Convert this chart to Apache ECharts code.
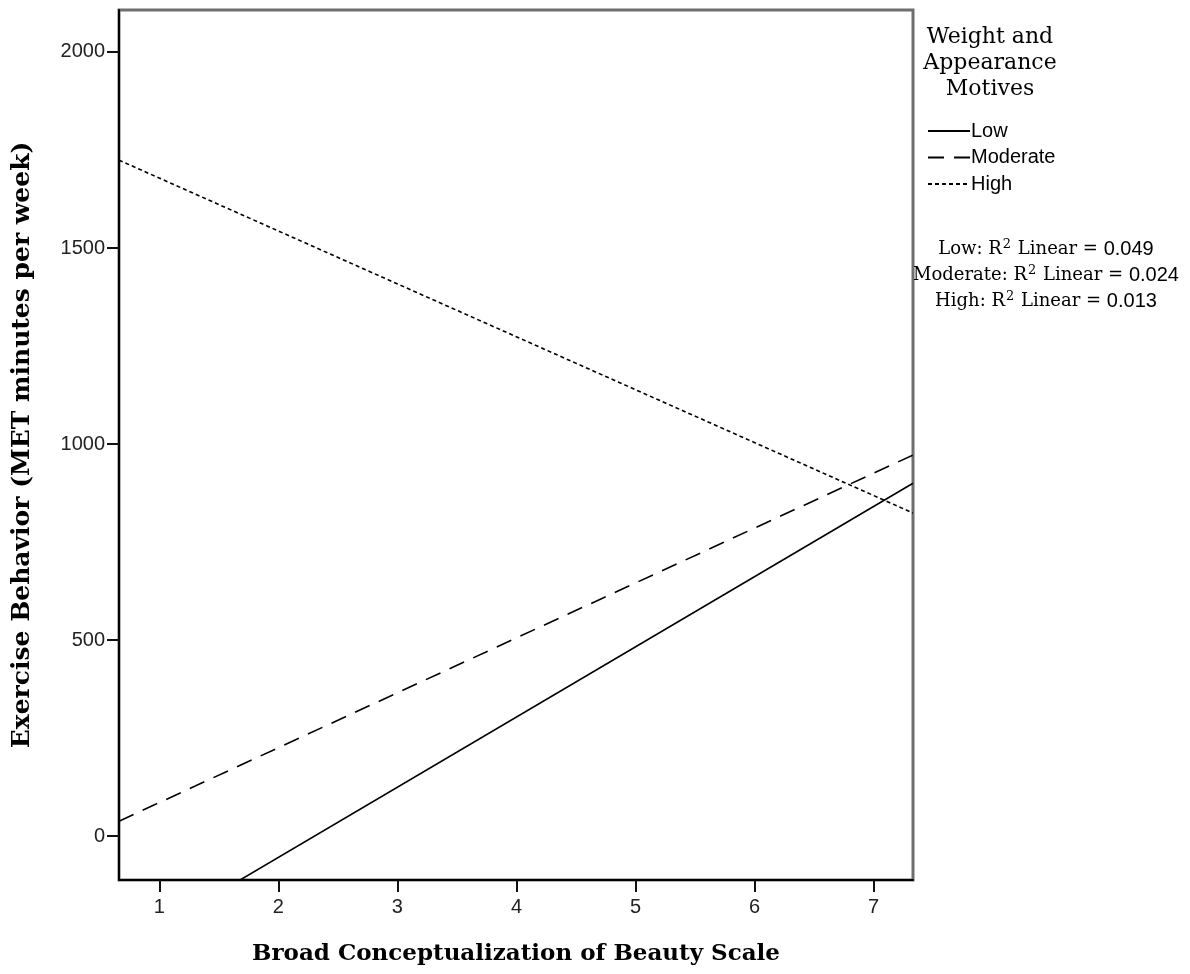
<!DOCTYPE html>
<html>
<head>
<meta charset="utf-8">
<script src="https://cdn.jsdelivr.net/npm/echarts@6/dist/echarts.min.js"></script>
<style>html,body{margin:0;padding:0;background:#fff}#c{width:1190px;height:974px}</style>
</head>
<body>
<div id="c"></div>
<script>
// Data (fit-line endpoints)
const xRange = [0.661, 7.331];
const lowLine = [[0.661, -294], [7.331, 900]];
const moderateLine = [[0.661, 38], [7.331, 972]];
const highLine = [[0.661, 1724], [7.331, 824]];
const seriesNames = ['Low', 'Moderate', 'High'];
const xTicks = [1, 2, 3, 4, 5, 6, 7];
const yTicks = [0, 500, 1000, 1500, 2000];
const yRange = [-112, 2107];
const r2Labels = ['Low', 'Moderate', 'High'];
const r2Values = ['0.049', '0.024', '0.013'];

const chart = echarts.init(document.getElementById('c'));
const serif = 'DejaVu Serif';
const sans = 'Liberation Sans';

function lineSeries(name, data, type) {
  return {
    name: name, type: 'line', data: data, symbol: 'none', showSymbol: false,
    silent: true, animation: false,
    itemStyle: { color: '#000' },
    lineStyle: { color: '#000', width: 1.6, type: type }
  };
}

const r2Graphics = r2Labels.map((lab, i) => ({
  type: 'text',
  style: {
    x: 1046, y: 249 + i * 26,
    align: 'center', verticalAlign: 'middle',
    rich: {
      s: { fontFamily: serif, fontSize: 18, fill: '#000' },
      sup: { fontFamily: serif, fontSize: 13, fill: '#000', verticalAlign: 'top', padding: [0, 1, 8, 1] },
      n: { fontFamily: sans, fontSize: 20, fill: '#000' }
    },
    text: '{s|' + lab + ': R}{sup|2}{s| Linear = }{n|' + r2Values[i] + '}'
  }
}));

chart.setOption({
  animation: false,
  backgroundColor: '#fff',
  grid: { left: 119, top: 10, right: 277, bottom: 94, show: true, borderColor: '#6e6e6e', borderWidth: 3, outerBoundsMode: 'none', containLabel: false },
  xAxis: {
    type: 'value', min: xRange[0], max: xRange[1],
    name: 'Broad Conceptualization of Beauty Scale', nameLocation: 'middle', nameGap: 63,
    nameTextStyle: { fontFamily: serif, fontWeight: 'bold', fontSize: 23, color: '#000' },
    axisLine: { show: true, onZero: false, lineStyle: { color: '#000', width: 2 } },
    axisTick: { show: true, length: 12, lineStyle: { color: '#111', width: 2 }, customValues: xTicks },
    axisLabel: { customValues: xTicks, fontFamily: sans, fontSize: 20, color: '#222', margin: 17 },
    splitLine: { show: false }
  },
  yAxis: {
    type: 'value', min: yRange[0], max: yRange[1],
    name: 'Exercise Behavior (MET minutes per week)', nameLocation: 'middle', nameGap: 84,
    nameTextStyle: { fontFamily: serif, fontWeight: 'bold', fontSize: 25, color: '#000' },
    axisLine: { show: true, onZero: false, lineStyle: { color: '#000', width: 2 } },
    axisTick: { show: true, length: 12, lineStyle: { color: '#111', width: 2 }, customValues: yTicks },
    axisLabel: { customValues: yTicks, fontFamily: sans, fontSize: 20, color: '#222', margin: 14, formatter: v => String(v) },
    splitLine: { show: false }
  },
  legend: {
    orient: 'vertical', left: 922, top: 116, itemWidth: 42, itemHeight: 14, itemGap: 6.5,
    data: seriesNames,
    itemStyle: { opacity: 0 },
    textStyle: { fontFamily: sans, fontSize: 20, color: '#000', padding: [0, 0, 0, -4] },
    selectedMode: false
  },
  graphic: [
    {
      type: 'text',
      style: {
        x: 990, y: 24, align: 'center', verticalAlign: 'top',
        text: 'Weight and\nAppearance\nMotives',
        fontFamily: serif, fontSize: 22, lineHeight: 26, fill: '#000'
      }
    }
  ].concat(r2Graphics),
  series: [
    lineSeries(seriesNames[0], lowLine, 'solid'),
    lineSeries(seriesNames[1], moderateLine, [16, 10]),
    lineSeries(seriesNames[2], highLine, [4, 3])
  ]
});
</script>
</body>
</html>
